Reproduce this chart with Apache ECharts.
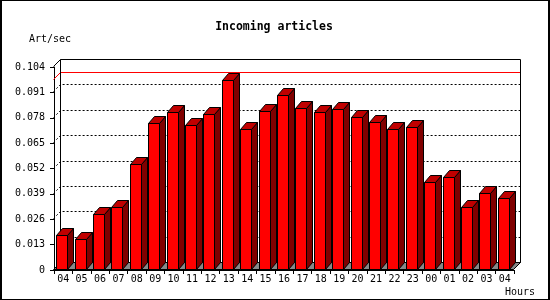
<!DOCTYPE html>
<html><head><meta charset="utf-8">
<script src="https://cdn.jsdelivr.net/npm/echarts@6/dist/echarts.min.js"></script>
<style>html,body{margin:0;padding:0;background:#fff}#c{width:550px;height:300px}</style>
</head><body><div id="c"></div>
<script>
// ---- data ----
const hours = ['04','05','06','07','08','09','10','11','12','13','14','15','16','17','18','19','20','21','22','23','00','01','02','03','04'];
const rates = [0.0175,0.0155,0.0285,0.0319,0.0541,0.0750,0.0806,0.0741,0.0796,0.0972,0.0719,0.0811,0.0895,0.0827,0.0806,0.0822,0.0781,0.0755,0.0719,0.0729,0.0447,0.0473,0.0319,0.0391,0.0365];
const yTicks = [0,0.013,0.026,0.039,0.052,0.065,0.078,0.091,0.104];
const titleText = 'Incoming articles';
const yUnit = 'Art/sec';
const xUnit = 'Hours';

// ---- style ----
const FONT = '"DejaVu Sans Mono", monospace';
const D = 7;          // depth of walls
const BX = 6, BY = 7; // depth of bars
const px = v => Math.floor(v - 0.5) + 0.5;
const px2 = v => Math.floor(v) + 0.5;
const maxRate = Math.max.apply(null, rates);

const chart = echarts.init(document.getElementById('c'), null, {renderer: 'canvas'});

function renderBackground(params, api) {
  const cs = params.coordSys;
  const xl = px(cs.x), xr = px(cs.x + cs.width);
  const yt = px(cs.y), yb = px(cs.y + cs.height);
  const kids = [];
  kids.push({type: 'polygon', shape: {points: [[xl, yb], [xl + D, yb - D], [xr + D, yb - D], [xr, yb]]},
    style: {fill: '#888888', stroke: '#000', lineWidth: 1}});
  for (let k = 1; k < yTicks.length - 1; k++) {
    const y = px(api.coord([0, yTicks[k]])[1]);
    kids.push({type: 'polyline', shape: {points: [[xl, y], [xl + D, y - D], [xr + D, y - D]]},
      style: {stroke: '#000', lineWidth: 1, lineDash: [2, 2], fill: null}});
  }
  const ym = px(api.coord([0, maxRate])[1]);
  kids.push({type: 'polyline', shape: {points: [[xl, ym], [xl + D, ym - D], [xr + D, ym - D]]},
    style: {stroke: '#ff0000', lineWidth: 1, fill: null}});
  kids.push({type: 'polyline', shape: {points: [[xl, yt], [xl + D, yt - D], [xr + D, yt - D], [xr + D, yb - D], [xr, yb]]},
    style: {stroke: '#000', lineWidth: 1, fill: null}});
  kids.push({type: 'polyline', shape: {points: [[xl + D, yt - D], [xl + D, yb - D]]},
    style: {stroke: '#000', lineWidth: 1, fill: null}});
  return {type: 'group', children: kids};
}

function renderBar(params, api) {
  const i = api.value(0), v = api.value(1);
  const top = api.coord([i, v]);
  const base = api.coord([i, 0]);
  const band = api.size([1, 0])[0];
  const fw = Math.round(band * 0.6);
  const x0 = px2(top[0] - band * 0.353);
  const x1 = x0 + fw;
  const y0 = px2(top[1]);
  const yb = px(base[1]);
  return {type: 'group', children: [
    {type: 'polygon', shape: {points: [[x1, y0], [x1 + BX, y0 - BY], [x1 + BX, yb - BY], [x1, yb]]},
      style: {fill: '#800000', stroke: '#000', lineWidth: 1}},
    {type: 'polygon', shape: {points: [[x0, y0], [x0 + BX, y0 - BY], [x1 + BX, y0 - BY], [x1, y0]]},
      style: {fill: '#c00000', stroke: '#000', lineWidth: 1}},
    {type: 'rect', shape: {x: x0, y: y0, width: fw, height: yb - y0},
      style: {fill: '#ff0000', stroke: '#000', lineWidth: 1}}
  ]};
}

const option = {
  animation: false,
  backgroundColor: '#fff',
  grid: {left: 54, right: 36, top: 67, bottom: 30, containLabel: false, outerBoundsMode: 'none'},
  xAxis: {
    type: 'category', data: hours,
    axisLine: {show: true, lineStyle: {color: '#000', width: 1}},
    axisTick: {show: true, length: 4, lineStyle: {color: '#000'}},
    axisLabel: {interval: 0, margin: 4, fontFamily: FONT, fontSize: 10, color: '#000', hideOverlap: false},
    splitLine: {show: false}
  },
  yAxis: {
    type: 'value',
    min: yTicks[0], max: yTicks[yTicks.length - 1], interval: yTicks[1] - yTicks[0],
    axisLine: {show: true, lineStyle: {color: '#000', width: 1}},
    axisTick: {show: true, length: 4, lineStyle: {color: '#000'}},
    axisLabel: {margin: 9, fontFamily: FONT, fontSize: 10, color: '#000', showMinLabel: true, showMaxLabel: true,
      formatter: val => (Math.abs(val) < 1e-9 ? '0' : val.toFixed(3))},
    splitLine: {show: false}
  },
  series: [
    {type: 'custom', z: 1, silent: true, clip: false, renderItem: renderBackground, data: [[0, 0]]},
    {type: 'custom', z: 2, silent: true, clip: false, renderItem: renderBar,
      data: rates.map((r, i) => [i, r])}
  ],
  graphic: [
    {type: 'rect', shape: {x: 0, y: 0, width: 550, height: 1}, style: {fill: '#000'}},
    {type: 'rect', shape: {x: 0, y: 299, width: 550, height: 1}, style: {fill: '#000'}},
    {type: 'rect', shape: {x: 0, y: 0, width: 2, height: 300}, style: {fill: '#000'}},
    {type: 'rect', shape: {x: 548, y: 0, width: 2, height: 300}, style: {fill: '#000'}},
    {type: 'text', x: 274, y: 27, style: {text: titleText, font: 'bold 11.5px ' + FONT, fill: '#000', align: 'center', verticalAlign: 'middle'}},
    {type: 'text', x: 29, y: 39, style: {text: yUnit, font: '10px ' + FONT, fill: '#000', align: 'left', verticalAlign: 'middle'}},
    {type: 'text', x: 505, y: 292, style: {text: xUnit, font: '10px ' + FONT, fill: '#000', align: 'left', verticalAlign: 'middle'}}
  ]
};
chart.setOption(option);
</script>
</body></html>
